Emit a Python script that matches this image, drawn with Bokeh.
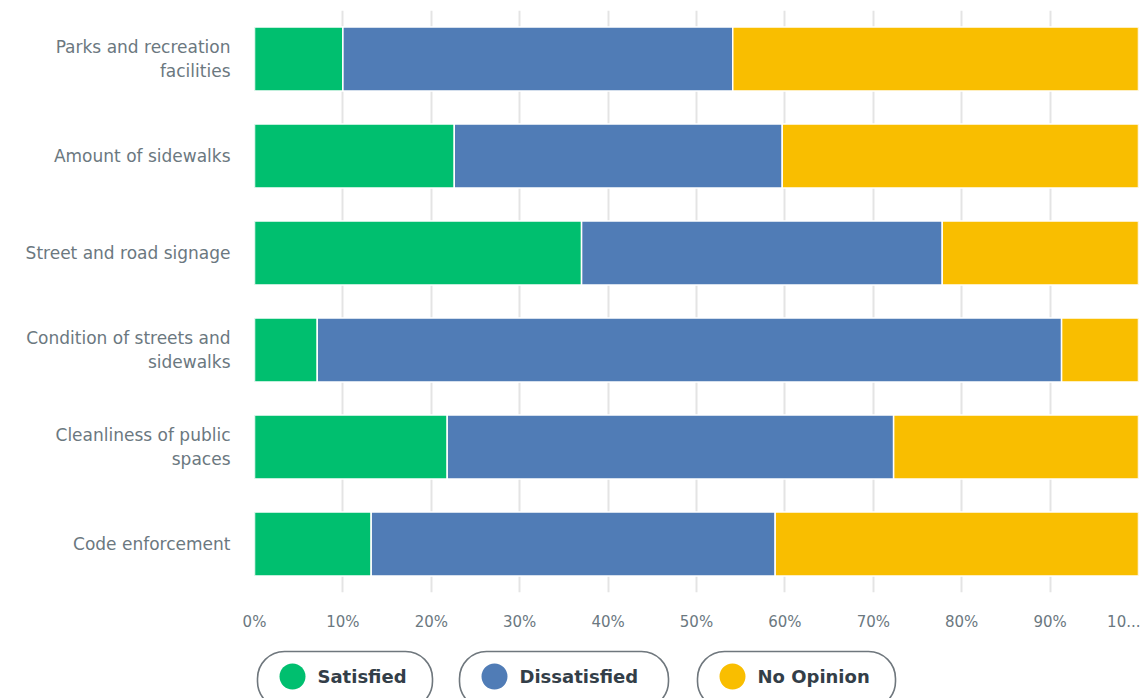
from bokeh.plotting import figure
from bokeh.models import FactorRange, Range1d, BoxAnnotation, ColumnDataSource, FixedTicker
from bokeh.layouts import column
from bokeh.core.properties import value
from bokeh.embed import file_html
from bokeh.resources import INLINE

# ---- data ----
categories = [
    "Parks and recreation\nfacilities",
    "Amount of sidewalks",
    "Street and road signage",
    "Condition of streets and\nsidewalks",
    "Cleanliness of public\nspaces",
    "Code enforcement",
]
satisfied = [10.0, 22.6, 37.0, 7.1, 21.8, 13.2]
dissatisfied = [44.1, 37.1, 40.8, 84.2, 50.5, 45.7]
no_opinion = [45.9, 40.3, 22.2, 8.7, 27.7, 41.1]
series_names = ["Satisfied", "Dissatisfied", "No Opinion"]
series_colors = ["#00BF6F", "#507CB6", "#F9BE00"]
x_ticks = [0, 10, 20, 30, 40, 50, 60, 70, 80, 90, 100]
x_tick_labels = ["0%", "10%", "20%", "30%", "40%", "50%", "60%", "70%", "80%", "90%", "10..."]

FONT = "DejaVu Sans"
LABEL_GRAY = "#6B787F"

source = ColumnDataSource(dict(
    cat=categories,
    Satisfied=satisfied,
    Dissatisfied=dissatisfied,
    **{"No Opinion": no_opinion},
))

BORDER_L, BORDER_R = 254, 2

p = figure(
    width=1140, height=644,
    y_range=FactorRange(factors=list(reversed(categories)), range_padding=0),
    x_range=Range1d(0, 100),
    output_backend="svg", toolbar_location=None,
    min_border_left=BORDER_L, min_border_right=BORDER_R,
    min_border_top=10, min_border_bottom=52,
)
p.outline_line_color = None
p.background_fill_color = "white"

p.hbar_stack(series_names, y="cat", height=0.66, color=series_colors,
             line_color="white", line_width=1.5, source=source)

p.ygrid.grid_line_color = None
p.xgrid.ticker = FixedTicker(ticks=x_ticks)
p.xgrid.grid_line_color = "#E4E4E4"
p.xgrid.grid_line_width = 2

p.xaxis.ticker = FixedTicker(ticks=x_ticks)
p.xaxis.major_label_overrides = {t: l for t, l in zip(x_ticks, x_tick_labels)}
for ax in (p.xaxis, p.yaxis):
    ax.axis_line_color = None
    ax.major_tick_line_color = None
    ax.minor_tick_line_color = None
    ax.major_label_text_color = LABEL_GRAY
    ax.major_label_text_font = FONT
p.xaxis.major_label_text_font_size = "15px"
p.xaxis.major_label_standoff = 14
p.yaxis.major_label_text_font_size = "17px"
p.yaxis.major_label_standoff = 18

# ---- legend (pill style), frame aligned with the main plot ----
leg = figure(
    width=1140, height=54,
    x_range=Range1d(BORDER_L, 1140 - BORDER_R), y_range=Range1d(0, 54),
    output_backend="svg", toolbar_location=None,
    min_border_left=BORDER_L, min_border_right=BORDER_R,
    min_border_top=0, min_border_bottom=0,
)
leg.axis.visible = False
leg.grid.visible = False
leg.outline_line_color = None

pill_left = [257, 459, 697]
pill_right = [432, 668, 895]
for l, r in zip(pill_left, pill_right):
    leg.add_layout(BoxAnnotation(left=l, right=r, top=47, bottom=-10,
                                 fill_alpha=0,
                                 line_color="#6F777D", line_alpha=1, line_width=1.6,
                                 border_radius=27, level="underlay"))
leg.scatter(x=[l + 35 for l in pill_left], y=[22] * 3, size=26,
            color=series_colors, line_color=None)
leg.text(x=[l + 60 for l in pill_left], y=[22] * 3, text=series_names,
         text_font=value(FONT), text_font_style="bold", text_font_size="18px",
         text_color="#333E48", text_baseline="middle", text_align="left")

layout = column(p, leg, spacing=0)
open("out.html", "w").write(file_html(layout, INLINE))
